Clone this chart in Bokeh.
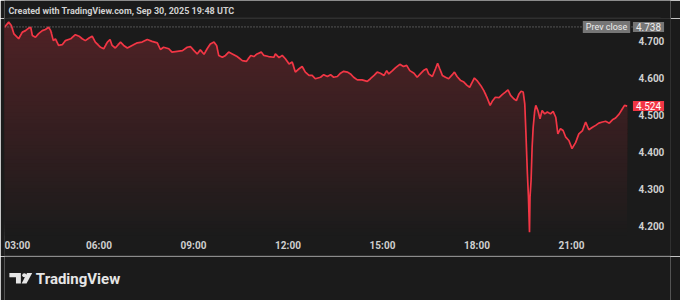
import numpy as np
from bokeh.plotting import figure
from bokeh.layouts import column
from bokeh.models import Range1d, FixedTicker, Label
from bokeh.core.properties import value
from bokeh.embed import file_html
from bokeh.resources import INLINE

# ---------------- data ----------------
header_text = "Created with TradingView.com, Sep 30, 2025 19:48 UTC"
brand_text = "TradingView"

minutes_after_0300 = [
    0, 8, 13, 18, 27, 34, 40, 46, 50, 53,
    59, 65, 72, 78, 84, 88, 93, 97, 103, 110,
    116, 126, 135, 142, 148, 154, 161, 167, 173, 183,
    189, 196, 201, 205, 211, 221, 227, 234, 243, 253,
    262, 272, 281, 291, 297, 303, 313, 319, 329, 339,
    348, 354, 361, 367, 373, 380, 386, 392, 399, 404,
    408, 415, 421, 427, 434, 443, 453, 461, 469, 475,
    481, 489, 494, 503, 513, 516, 523, 529, 535, 542,
    548, 554, 561, 567, 573, 580, 586, 592, 602, 608,
    615, 621, 627, 634, 640, 646, 653, 659, 665, 672,
    681, 691, 697, 704, 710, 716, 723, 728, 732, 739,
    745, 753, 760, 766, 772, 780, 786, 792, 798, 804,
    808, 815, 821, 825, 829, 834, 840, 846, 853, 857,
    862, 869, 875, 881, 886, 891, 895, 900, 907, 913,
    920, 925, 929, 935, 942, 948, 954, 959, 964, 970,
    975, 980, 984, 988, 991, 993, 996, 998, 1000, 1001,
    1003, 1005, 1007, 1010, 1012, 1016, 1020, 1024, 1029, 1034,
    1040, 1045, 1050, 1054, 1059, 1064, 1069, 1075, 1081, 1088,
    1094, 1101, 1107, 1113, 1120, 1126, 1132, 1139, 1145, 1152,
    1158, 1164, 1171, 1177, 1181, 1186,
]

prices = [
    4.737, 4.751, 4.742, 4.719, 4.706, 4.724, 4.728, 4.735, 4.737, 4.715,
    4.710, 4.720, 4.728, 4.731, 4.737, 4.728, 4.701, 4.706, 4.688, 4.690,
    4.701, 4.706, 4.717, 4.713, 4.706, 4.701, 4.708, 4.713, 4.697, 4.683,
    4.679, 4.697, 4.704, 4.688, 4.681, 4.697, 4.688, 4.681, 4.688, 4.695,
    4.697, 4.704, 4.699, 4.695, 4.677, 4.683, 4.679, 4.670, 4.672, 4.674,
    4.683, 4.685, 4.674, 4.665, 4.676, 4.664, 4.679, 4.692, 4.697, 4.688,
    4.661, 4.656, 4.661, 4.670, 4.665, 4.658, 4.647, 4.645, 4.661, 4.658,
    4.665, 4.670, 4.661, 4.658, 4.656, 4.665, 4.655, 4.661, 4.652, 4.638,
    4.643, 4.616, 4.625, 4.631, 4.616, 4.607, 4.607, 4.598, 4.602, 4.609,
    4.604, 4.609, 4.602, 4.604, 4.613, 4.618, 4.616, 4.611, 4.602, 4.595,
    4.595, 4.591, 4.598, 4.607, 4.616, 4.613, 4.607, 4.620, 4.611, 4.620,
    4.628, 4.637, 4.631, 4.634, 4.620, 4.613, 4.602, 4.611, 4.620, 4.625,
    4.611, 4.604, 4.625, 4.640, 4.625, 4.607, 4.602, 4.598, 4.609, 4.616,
    4.604, 4.593, 4.589, 4.580, 4.575, 4.589, 4.600, 4.593, 4.580, 4.566,
    4.544, 4.526, 4.537, 4.548, 4.547, 4.555, 4.562, 4.568, 4.553, 4.544,
    4.539, 4.557, 4.564, 4.562, 4.530, 4.458, 4.341, 4.278, 4.183, 4.278,
    4.323, 4.413, 4.467, 4.512, 4.526, 4.512, 4.490, 4.512, 4.503, 4.508,
    4.503, 4.510, 4.494, 4.449, 4.463, 4.458, 4.440, 4.431, 4.409, 4.426,
    4.449, 4.458, 4.481, 4.460, 4.467, 4.472, 4.478, 4.481, 4.483, 4.478,
    4.487, 4.492, 4.503, 4.517, 4.526, 4.524,
]

prev_close = 4.738
prev_close_label = "Prev close"

time_ticks = [3, 6, 9, 12, 15, 18, 21]
time_tick_labels = ["03:00", "06:00", "09:00", "12:00", "15:00", "18:00", "21:00"]
price_ticks = [4.2, 4.3, 4.4, 4.5, 4.6, 4.7]
price_tick_labels = ["4.200", "4.300", "4.400", "4.500", "4.600", "4.700"]

# ---------------- style ----------------
BG = (27, 27, 27)
BG_HEX = "#1b1b1b"
RED_RGB = (242, 54, 69)
RED = "#f23645"
BORDER = "#303030"
TXT = "#cfcfcf"
FONT = "Roboto"
W = 680

hours = 3 + np.array(minutes_after_0300, dtype=float) / 60.0
price_arr = np.array(prices)
last_price = prices[-1]

X0, X1 = 3.0, 23.0            # plotting area (time)
XR = X1 + 36 / 31.5           # price-scale strip on the right of the pane
Y0, Y1 = 4.174, 4.7608        # plotting area (price)
YB = 4.1203                   # pane bottom (time-scale strip below)


def blank_fig(h, top):
    f = figure(width=W, height=h, x_range=Range1d(0, W), y_range=Range1d(top + h, top),
               output_backend="svg", toolbar_location=None,
               min_border=0, background_fill_color=BG_HEX, border_fill_color=BG_HEX,
               outline_line_color=None)
    f.axis.visible = False
    f.grid.visible = False
    return f


# header
header = blank_fig(18, 0)
header.text(x=[4], y=[10], text=[header_text], text_font=value(FONT),
            text_font_size="9px", text_font_style="bold", text_color="#d0d0d0",
            text_baseline="middle", text_align="left")
header.line(x=[4, 670], y=[17.5, 17.5], line_color=BORDER, line_width=1)

# main chart
p = figure(width=W, height=238, x_range=Range1d(X0, XR), y_range=Range1d(YB, Y1),
           output_backend="svg", toolbar_location=None, y_axis_location="right",
           min_border_left=4, min_border_right=10, min_border_top=0, min_border_bottom=1,
           background_fill_color=BG_HEX, border_fill_color=BG_HEX,
           outline_line_color=BORDER, outline_line_width=1)
p.grid.visible = False

# gradient area: opaque stacked layers, each starting a bit higher
n_layers = 60
levels = np.linspace(Y0, Y1, n_layers + 1)
top_alpha = 0.25
for k in range(n_layers):
    lvl = levels[k]
    t = top_alpha * ((levels[k] + levels[k + 1]) / 2 - Y0) / (Y1 - Y0)
    col = tuple(int(round(b * (1 - t) + r * t)) for b, r in zip(BG, RED_RGB))
    p.varea(x=hours, y1=float(lvl), y2=np.maximum(price_arr, lvl),
            fill_color="#%02x%02x%02x" % col, fill_alpha=1.0)

p.line(hours, price_arr, line_color=RED, line_width=1.7)

# prev close dotted line
p.line(x=[X0, X1], y=[prev_close, prev_close], line_color="#8c8c8c",
       line_dash="1 2", line_width=1)

# axes drawn inside the pane at fixed locations
p.xaxis.fixed_location = Y0
p.yaxis.fixed_location = X1
p.xaxis.ticker = FixedTicker(ticks=time_ticks[1:])
p.xaxis.major_label_overrides = {t: l for t, l in zip(time_ticks[1:], time_tick_labels[1:])}
p.yaxis.ticker = FixedTicker(ticks=price_ticks)
p.yaxis.major_label_overrides = {t: l for t, l in zip(price_ticks, price_tick_labels)}
for ax in (p.xaxis[0], p.yaxis[0]):
    ax.axis_line_color = None
    ax.major_tick_line_color = None
    ax.minor_tick_line_color = None
    ax.major_tick_out = 0
    ax.major_tick_in = 0
    ax.major_label_text_color = TXT
    ax.major_label_text_font = FONT
    ax.major_label_text_font_size = "10px"
    ax.major_label_text_font_style = "bold"
p.xaxis.major_label_standoff = 4
p.yaxis.major_label_standoff = 4

# first time label, left-aligned at the pane edge
p.add_layout(Label(x=time_ticks[0], y=Y0, y_offset=-4, x_offset=0, text=time_tick_labels[0],
                   text_align="left", text_baseline="top", text_font=FONT,
                   text_font_size="10px", text_font_style="bold", text_color=TXT))

# badges
pad = dict(left=3, right=3, top=1, bottom=1)
p.add_layout(Label(x=X1, y=prev_close, x_offset=-28, text=prev_close_label,
                   text_align="center", text_baseline="middle", text_font=FONT,
                   text_font_size="9px", text_color="#ececec",
                   background_fill_color="#767676", padding=pad))
p.add_layout(Label(x=X1, y=prev_close, x_offset=14, text=f"{prev_close:.3f}",
                   text_align="center", text_baseline="middle", text_font=FONT,
                   text_font_size="10px", text_color="#ececec",
                   background_fill_color="#767676", padding=pad))
p.add_layout(Label(x=X1, y=last_price, x_offset=14, text=f"{last_price:.3f}",
                   text_align="center", text_baseline="middle", text_font=FONT,
                   text_font_size="10px", text_color="#ffffff",
                   background_fill_color=RED, padding=pad))

# footer
footer = blank_fig(44, 256)
footer.patches(
    xs=[[5, 16.7, 16.7, 11.7, 11.7, 5], [23, 28.3, 22.5, 17.5]],
    ys=[[272.5, 272.5, 283, 283, 276.7, 276.7], [272.5, 272.5, 283, 283]],
    fill_color="#e6e6e6", line_color=None)
footer.circle(x=[20.2], y=[274.8], radius=2.1, fill_color="#e6e6e6", line_color=None)
footer.text(x=[32], y=[278], text=[brand_text], text_font=value(FONT),
            text_font_size="15px", text_font_style="bold", text_color="#e6e6e6",
            text_baseline="middle", text_align="left")

layout = column(header, p, footer, spacing=0)
open("out.html", "w").write(file_html(layout, INLINE))
